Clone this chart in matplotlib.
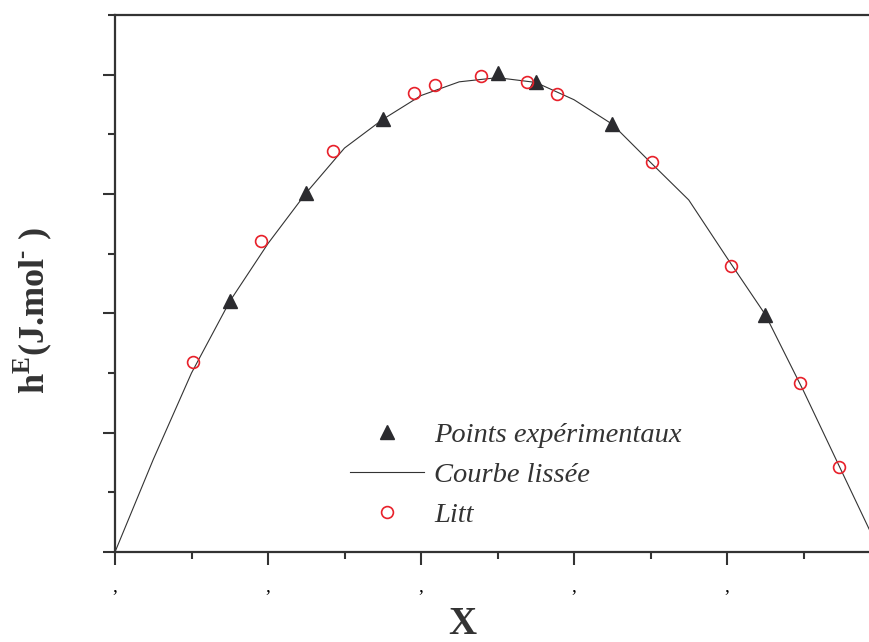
import matplotlib
matplotlib.use("Agg")
import matplotlib.pyplot as plt
from matplotlib.ticker import MultipleLocator, FixedLocator, FixedFormatter

plt.rcParams['font.family'] = ['Liberation Serif', 'DejaVu Serif']
plt.rcParams['mathtext.fontset'] = 'custom'
plt.rcParams['mathtext.rm'] = 'Liberation Serif:bold'

# experimental points (triangles)
x_exp = [0.15, 0.25, 0.35, 0.50, 0.55, 0.65, 0.85]
h_exp = [420, 602, 725, 802, 788, 717, 398]

# smoothed curve
x_fit = [0.0, 0.05, 0.10, 0.15, 0.20, 0.25, 0.30, 0.35, 0.40, 0.45, 0.50,
         0.55, 0.60, 0.65, 0.70, 0.75, 0.80, 0.85, 0.90, 0.95, 1.0]
h_fit = [0, 155, 300, 420, 517, 602, 677, 725, 765, 788, 795,
         787, 758, 717, 653, 590, 493, 398, 270, 135, 0]

# literature values (circles)
x_lit = [0.102, 0.191, 0.285, 0.391, 0.418, 0.478, 0.539, 0.578, 0.702, 0.805, 0.895, 0.946]
h_lit = [318, 522, 672, 770, 783, 797, 788, 767, 653, 480, 283, 143]

xtick_pos = [0.0, 0.2, 0.4, 0.6, 0.8, 1.0]
xtick_lab = [',', ',', ',', ',', ',', '']

fig = plt.figure(figsize=(8.7, 6.42), dpi=100)
ax = fig.add_axes([115 / 870, 90 / 642, 765 / 870, 537 / 642])

ax.plot(x_fit, h_fit, '-', color='#333333', lw=0.8, label='Courbe lissée', zorder=2)
ax.plot(x_exp, h_exp, '^', color='#2b2b2f', ms=10.5, ls='none',
        label='Points expérimentaux', zorder=3)
ax.plot(x_lit, h_lit, 'o', mfc='none', mec='#e8202a', mew=1.2, ms=8.5, ls='none',
        label='Litt', zorder=4)

ax.set_xlim(0, 1)
ax.set_ylim(0, 900)

ax.xaxis.set_major_locator(FixedLocator(xtick_pos))
ax.xaxis.set_major_formatter(FixedFormatter(xtick_lab))
ax.xaxis.set_minor_locator(MultipleLocator(0.1))
ax.yaxis.set_major_locator(MultipleLocator(200))
ax.yaxis.set_minor_locator(MultipleLocator(100))
ax.set_yticklabels([])

for s in ax.spines.values():
    s.set_linewidth(1.6)
    s.set_color('#333333')

ax.tick_params(which='major', direction='out', length=9, width=1.5, color='#333333',
               labelsize=14, pad=10, top=False, right=False)
ax.tick_params(which='minor', direction='out', length=5, width=1.5, color='#333333',
               top=False, right=False)

# legend ordering as in the reference
handles, labels = ax.get_legend_handles_labels()
order = [1, 0, 2]
leg = ax.legend([handles[i] for i in order], [labels[i] for i in order],
                loc='upper left', bbox_to_anchor=((350 - 115) / 765, (552 - 422) / 537),
                frameon=False, handlelength=2.6, handletextpad=0.35,
                labelspacing=0.5, borderpad=0, borderaxespad=0,
                prop={'family': 'Liberation Serif', 'style': 'italic', 'size': 20.5})
for t in leg.get_texts():
    t.set_color('#333333')

fig.text(33 / 870, 1 - 311 / 642, 'h$^{\\mathregular{E}}$(J.mol$^{\\mathregular{\u2010}}$ )',
         rotation=90, ha='center', va='center', fontsize=26, fontweight='bold',
         color='#333333')
fig.text(462 / 870, 1 - 634 / 642, 'X', ha='center', va='baseline',
         fontsize=28, fontweight='bold', color='#333333')

fig.savefig('out.png', dpi=100)
